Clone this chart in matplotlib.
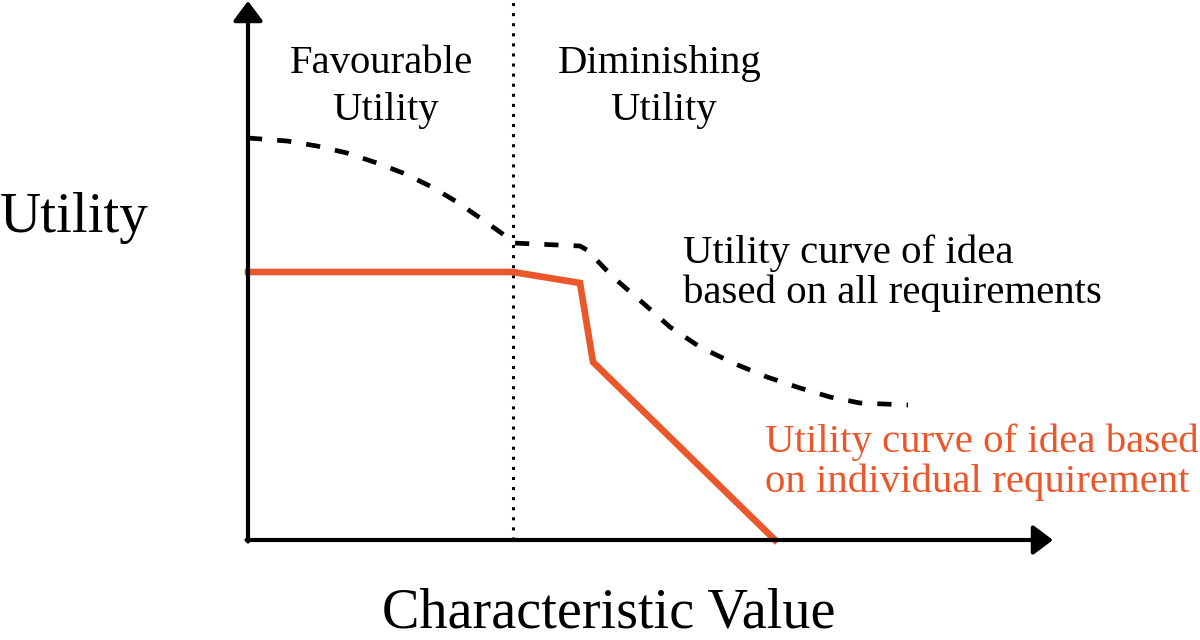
import matplotlib.pyplot as plt

plt.rcParams['font.family'] = ['Liberation Serif', 'DejaVu Serif']

# utility curve based on all requirements (dashed)
all_x = [0, 39, 69, 99, 129, 155, 184, 209, 235, 259, 265, 332, 339, 365, 395, 422, 452, 485, 519, 552, 582, 612, 660]
all_y = [402, 399, 394, 387, 377, 367, 353, 338, 320, 303, 297, 294, 290, 263, 237, 213, 193, 177, 163, 152, 143, 137, 135]

# utility curve based on individual requirement (orange)
ind_x = [0, 265, 332, 345, 527]
ind_y = [268, 268, 257, 178, 0]

# boundary between favourable and diminishing utility
boundary_x = 265
orange = '#E9572B'

fig = plt.figure(figsize=(12, 6.4), dpi=100)
ax = fig.add_axes([0, 0, 1, 1])
ax.set_xlim(-248, 952)
ax.set_ylim(-100, 540)
ax.axis('off')

# axes with arrows
arrow = dict(arrowstyle='-|>,head_length=0.6,head_width=0.45', lw=3, color='black',
             mutation_scale=20, shrinkA=0, shrinkB=0)
ax.annotate('', xy=(0, 539), xytext=(0, -1.5), arrowprops=arrow)
ax.annotate('', xy=(805, 0), xytext=(-1.5, 0), arrowprops=arrow)

ax.plot([boundary_x, boundary_x], [0, 540], color='black', lw=2.2,
        linestyle=(0, (1, 2.3)), dash_capstyle='butt')

ax.plot(all_x, all_y, color='black', lw=3.4, dashes=(3.0, 3.2), dash_capstyle='butt')
ax.plot(ind_x, ind_y, color=orange, lw=4.8, solid_joinstyle='miter')

fs_top = 29.3
ax.text(134, 467, 'Favourable', fontsize=fs_top, ha='center', va='baseline')
ax.text(137, 420, 'Utility', fontsize=fs_top, ha='center', va='baseline')
ax.text(412, 467, 'Diminishing', fontsize=fs_top, ha='center', va='baseline')
ax.text(415, 420, 'Utility', fontsize=fs_top, ha='center', va='baseline')

ax.text(-248, 308, 'Utility', fontsize=41, ha='left', va='baseline')
ax.text(361, -87, 'Characteristic Value', fontsize=40.5, ha='center', va='baseline')

fs_lab = 29.4
ax.text(435, 277, 'Utility curve of idea', fontsize=fs_lab, ha='left', va='baseline')
ax.text(435, 237, 'based on all requirements', fontsize=fs_lab, ha='left', va='baseline')
ax.text(517, 88, 'Utility curve of idea based', fontsize=fs_lab, ha='left', va='baseline', color=orange)
ax.text(517, 48, 'on individual requirement', fontsize=fs_lab, ha='left', va='baseline', color=orange)

fig.savefig('out.png', dpi=100)
